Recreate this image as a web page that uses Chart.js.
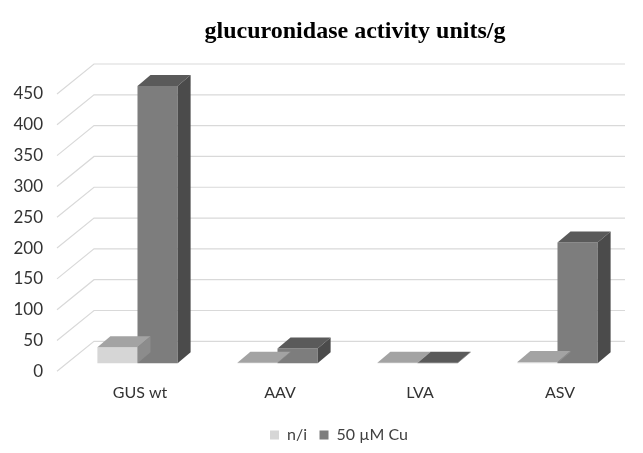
<!DOCTYPE html>
<html>
<head>
<meta charset="utf-8">
<script src="https://cdn.jsdelivr.net/npm/chart.js@4"></script>
<style>
  body { margin: 0; background: #fff; }
  #wrap { width: 643px; height: 453px; }
</style>
</head>
<body>
<div id="wrap"><canvas id="chart"></canvas></div>
<script>
const categories = ["GUS wt", "AAV", "LVA", "ASV"];
const niValues = [26, 1, 1, 2];
const cuValues = [450, 24, 1, 196];
const yTicks = [0, 50, 100, 150, 200, 250, 300, 350, 400, 450];
const seriesNames = ["n/i", "50 \u00b5M Cu"];

// colours for front / top / side faces
const faces = [
  { front: "#d6d6d6", top: "#a3a3a3", side: "#8c8c8c" },
  { front: "#7d7d7d", top: "#5a5a5a", side: "#4b4b4b" },
];

const BAR_SHIFT = { x: 8.5, y: -8 }; // bar front face sits a bit into the floor
const DEPTH = { x: 13, y: -11 }; // bar depth
const WALL = { x: 35, y: -30 }; // back wall offset

const threeD = {
  id: "threeD",
  beforeDatasetsDraw(chart) {
    // back wall grid: diagonal from the axis, then flat across the wall
    const ctx = chart.ctx;
    const area = chart.chartArea;
    const y = chart.scales.y;
    ctx.save();
    ctx.strokeStyle = "#d9d9d9";
    ctx.lineWidth = 1.2;
    yTicks.forEach((v) => {
      const py = y.getPixelForValue(v);
      ctx.beginPath();
      ctx.moveTo(area.left - 2, py);
      ctx.lineTo(area.left + WALL.x, py + WALL.y);
      ctx.lineTo(area.right + 6, py + WALL.y);
      ctx.stroke();
    });
    ctx.restore();
  },
  beforeDatasetDraw(chart) {
    chart.ctx.save();
    chart.ctx.translate(BAR_SHIFT.x, BAR_SHIFT.y);
  },
  afterDatasetDraw(chart, args) {
    const ctx = chart.ctx;
    const c = faces[args.index];
    args.meta.data.forEach((bar) => {
      const l = bar.x - bar.width / 2;
      const r = bar.x + bar.width / 2;
      const t = bar.y;
      const b = bar.base;
      // top face
      ctx.fillStyle = c.top;
      ctx.beginPath();
      ctx.moveTo(l, t);
      ctx.lineTo(r, t);
      ctx.lineTo(r + DEPTH.x, t + DEPTH.y);
      ctx.lineTo(l + DEPTH.x, t + DEPTH.y);
      ctx.closePath();
      ctx.fill();
      // side face
      if (b - t > 0.5) {
        ctx.fillStyle = c.side;
        ctx.beginPath();
        ctx.moveTo(r, t);
        ctx.lineTo(r + DEPTH.x, t + DEPTH.y);
        ctx.lineTo(r + DEPTH.x, b + DEPTH.y);
        ctx.lineTo(r, b);
        ctx.closePath();
        ctx.fill();
      }
    });
    ctx.restore();
  },
  afterDraw(chart) {
    const ctx = chart.ctx;
    ctx.save();
    ctx.fillStyle = "#000";
    ctx.font = "bold 24px 'Liberation Serif'";
    ctx.textAlign = "center";
    ctx.textBaseline = "middle";
    ctx.fillText("glucuronidase activity units/g", 355, 32);
    ctx.restore();
  },
};

new Chart(document.getElementById("chart"), {
  type: "bar",
  data: {
    labels: categories,
    datasets: [
      {
        label: seriesNames[0],
        data: niValues,
        backgroundColor: faces[0].front,
        clip: false,
      },
      {
        label: seriesNames[1],
        data: cuValues,
        backgroundColor: faces[1].front,
        clip: false,
      },
    ],
  },
  options: {
    responsive: true,
    maintainAspectRatio: false,
    animation: false,
    categoryPercentage: 0.573,
    barPercentage: 1,
    layout: { padding: { top: 94, right: 24, left: 0, bottom: 0 } },
    plugins: {
      title: { display: false },
      tooltip: { enabled: false },
      legend: {
        position: "bottom",
        fullSize: false,
        labels: {
          boxWidth: 9,
          boxHeight: 9,
          padding: 12.5,
          color: "#404040",
          font: { family: "Lato", size: 16 },
        },
      },
    },
    scales: {
      x: {
        grid: { display: false, drawTicks: false },
        border: { display: false },
        ticks: {
          color: "#333",
          font: { family: "Lato", size: 16 },
          padding: 12,
          labelOffset: 11,
        },
      },
      y: {
        min: 0,
        max: 450,
        afterFit: (scale) => {
          scale.width = 59;
        },
        afterBuildTicks: (scale) => {
          scale.ticks = yTicks.map((v) => ({ value: v }));
        },
        grid: { display: false, drawTicks: false },
        border: { display: false },
        ticks: {
          color: "#333",
          font: { family: "Lato", size: 17 },
          padding: 16,
        },
      },
    },
  },
  plugins: [threeD],
});
</script>
</body>
</html>
